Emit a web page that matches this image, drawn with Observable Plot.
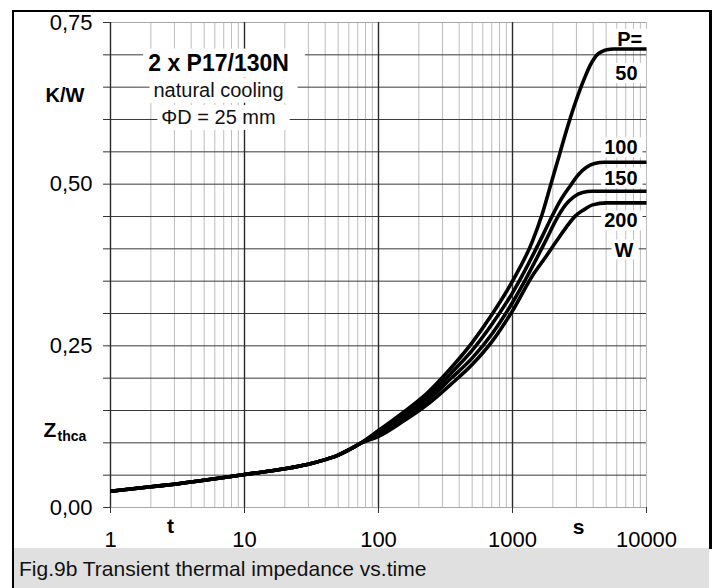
<!DOCTYPE html>
<html>
<head>
<meta charset="utf-8">
<script src="https://cdn.jsdelivr.net/npm/d3@7"></script>
<script src="https://cdn.jsdelivr.net/npm/@observablehq/plot@0.6"></script>
<style>
  body { margin: 0; background: #fff; font-family: "Liberation Sans", Arial, sans-serif; }
  #wrap { position: relative; width: 719px; height: 588px; overflow: hidden; background: #fff; }
  #chart { position: absolute; left: 0; top: 0; }
  #frameL { position: absolute; left: 11.5px; top: 9.5px; width: 2.6px; height: 580px; background: #000; }
  #frameT { position: absolute; left: 11.5px; top: 9.5px; width: 700px; height: 2.6px; background: #000; }
  #frameR { position: absolute; left: 708.8px; top: 9.5px; width: 2.8px; height: 539px; background: #000; }
  #cap { position: absolute; left: 14px; top: 548px; width: 695px; height: 40px; background: #e0e0e0;
         font-size: 21px; line-height: 41px; padding-left: 5px; box-sizing: border-box; color: #111; white-space: nowrap; }
</style>
</head>
<body>
<div id="wrap">
  <div id="chart"></div>
  <div id="frameL"></div>
  <div id="frameT"></div>
  <div id="frameR"></div>
  <div id="cap">Fig.9b Transient thermal impedance vs.time</div>
</div>
<script>
// ---- axes / grid ----
const decadeTicks = [1, 10, 100, 1000, 10000];
const decadeLines = [1, 10, 100, 1000];
const minorTicks = [2, 3, 4, 5, 6, 7, 8, 9,
  20, 30, 40, 50, 60, 70, 80, 90,
  200, 300, 400, 500, 600, 700, 800, 900,
  2000, 3000, 4000, 5000, 6000, 7000, 8000, 9000, 10000];
const yTicks = [0, 0.05, 0.10, 0.15, 0.20, 0.25, 0.30, 0.35, 0.40, 0.45, 0.50, 0.55, 0.60, 0.65, 0.70, 0.75];
const yInnerGrid = [0.05, 0.10, 0.15, 0.20, 0.25, 0.30, 0.35, 0.40, 0.45, 0.50, 0.55, 0.60, 0.65, 0.70];
const yEdgeGrid = [0, 0.75];
const yLabelled = [0, 0.25, 0.50, 0.75];

// ---- curves (time in s, Zthca in K/W) ----
const commonT = [1, 2, 3, 5, 10, 20, 30, 40, 50, 60, 73];
const commonZ = [0.025, 0.032, 0.036, 0.042, 0.051, 0.060, 0.067, 0.074, 0.081, 0.089, 0.099];

const t50 = [100, 146, 231, 345, 500, 700, 1000, 1410, 1655, 1922, 2244, 2570, 2900, 3200, 3530, 3780, 4060, 4330, 4640, 5050, 5700, 10000];
const z50 = [0.119, 0.144, 0.177, 0.215, 0.255, 0.298, 0.350, 0.412, 0.452, 0.498, 0.546, 0.588, 0.622, 0.647, 0.669, 0.683, 0.694, 0.701, 0.705, 0.708, 0.709, 0.709];

const t100 = [100, 146, 231, 345, 500, 700, 1000, 1675, 1989, 2281, 2710, 3110, 3566, 4093, 4862, 10000];
const z100 = [0.116, 0.1395, 0.171, 0.207, 0.243, 0.283, 0.332, 0.420, 0.452, 0.475, 0.498, 0.515, 0.526, 0.532, 0.534, 0.534];

const t150 = [100, 146, 231, 345, 500, 700, 1000, 1794, 2130, 2488, 2852, 3329, 3955, 10000];
const z150 = [0.113, 0.135, 0.165, 0.199, 0.231, 0.268, 0.317, 0.415, 0.446, 0.468, 0.480, 0.487, 0.489, 0.489];

const t200 = [100, 146, 231, 345, 500, 700, 1000, 1435, 1763, 2130, 2529, 2953, 3445, 3955, 5028, 10000];
const z200 = [0.110, 0.1305, 0.159, 0.190, 0.221, 0.256, 0.304, 0.361, 0.387, 0.412, 0.434, 0.451, 0.461, 0.468, 0.471, 0.471];

const powers = ["50", "100", "150", "200"];
const seriesT = [t50, t100, t150, t200];
const seriesZ = [z50, z100, z150, z200];

// ---- annotations ----
const titleText = ["2 x P17/130N"];
const titleT = [6.4];
const titleZ = [0.687];
const noteText = ["natural cooling", "\u03A6D = 25 mm"];
const noteT = [6.4, 6.4];
const noteZ = [0.645, 0.603];

const curveLabelText = ["P=", "50", "100", "150", "200", "W"];
const curveLabelT = [9300, 8570, 8570, 8570, 8570, 8000];
const curveLabelZ = [0.724, 0.671, 0.556, 0.509, 0.443, 0.398];

const unitText = ["K/W"];
const unitZ = [0.637];
const axisLetterText = ["t", "s"];
const axisLetterT = [2.8, 3110];
const axisLetterZ = [-0.029, -0.030];
const zSymbolZ = [0.119];
const zSubZ = [0.110];

// ---- build tables ----
const rows = [];
powers.forEach((p, i) => {
  commonT.forEach((t, j) => rows.push({p, t, z: commonZ[j]}));
  seriesT[i].forEach((t, j) => rows.push({p, t, z: seriesZ[i][j]}));
});
const zip = (txt, xs, ys) => txt.map((s, i) => ({s, x: xs[i], y: ys[i]}));

const font = "Liberation Sans, Arial, Helvetica, sans-serif";

const chart = Plot.plot({
  width: 719,
  height: 548,
  marginLeft: 110,
  marginRight: 73,
  marginTop: 22,
  marginBottom: 41,
  style: {fontFamily: font, background: "transparent", overflow: "visible", color: "#000"},
  x: {type: "log", domain: [1, 10000]},
  y: {domain: [0, 0.75]},
  marks: [
    Plot.ruleX(minorTicks, {stroke: "#bdbdbd", strokeWidth: 1}),
    Plot.ruleY(yEdgeGrid, {stroke: "#a8a8a8", strokeWidth: 1}),
    Plot.ruleY(yInnerGrid, {stroke: "#3a3a3a", strokeWidth: 1}),
    Plot.ruleX(decadeLines, {stroke: "#2a2a2a", strokeWidth: 1.4}),
    Plot.axisY({ticks: yTicks, tickSize: 7, tickPadding: 11, label: null, fontSize: 22,
      stroke: "#333",
      tickFormat: d => yLabelled.includes(d) ? d.toFixed(2).replace(".", ",") : ""}),
    Plot.axisX({ticks: decadeTicks, tickSize: 6, tickPadding: 18, label: null, fontSize: 22,
      stroke: "#333", tickFormat: d => String(d)}),
    // annotations (white boxes added after render)
    Plot.text(zip(titleText, titleT, titleZ), {x: "x", y: "y", text: "s", fontSize: 23, fontWeight: "bold",
      fill: "#000", style: "letter-spacing:0.9px"}),
    Plot.text(zip(noteText, noteT, noteZ), {x: "x", y: "y", text: "s", fontSize: 20, fill: "#111"}),
    Plot.text(zip(curveLabelText, curveLabelT, curveLabelZ), {x: "x", y: "y", text: "s", fontSize: 20,
      fontWeight: "bold", textAnchor: "end", fill: "#000"}),
    // curves
    Plot.line(rows, {x: "t", y: "z", z: "p", stroke: "#000", strokeWidth: 3.6, curve: "monotone-x",
      strokeLinejoin: "round", strokeLinecap: "butt"}),
    // outside labels
    Plot.text(unitText, {text: d => d, frameAnchor: "left", y: unitZ, dx: -65, textAnchor: "start", fontSize: 20, fontWeight: "bold", fill: "#000", style: "letter-spacing:0.5px"}),
    Plot.text(["Z"], {text: d => d, frameAnchor: "left", y: zSymbolZ, dx: -67, textAnchor: "start", fontSize: 21, fontWeight: "bold", fill: "#000"}),
    Plot.text(["thca"], {text: d => d, frameAnchor: "left", y: zSubZ, dx: -53, textAnchor: "start", fontSize: 14, fontWeight: "bold", fill: "#000"}),
    Plot.text(zip(axisLetterText, axisLetterT, axisLetterZ), {x: "x", y: "y", text: "s", fontSize: 21, fontWeight: "bold", fill: "#000"})
  ]
});
document.getElementById("chart").appendChild(chart);

// white boxes behind annotation texts (hide the grid, not the curves)
function boxify(strings, padL, padR, padT, padB) {
  chart.querySelectorAll("text").forEach(t => {
    if (!strings.includes(t.textContent)) return;
    const b = t.getBBox();
    const r = document.createElementNS("http://www.w3.org/2000/svg", "rect");
    r.setAttribute("x", b.x - padL);
    r.setAttribute("y", b.y - padT);
    r.setAttribute("width", b.width + padL + padR);
    r.setAttribute("height", b.height + padT + padB);
    r.setAttribute("fill", "#fff");
    r.setAttribute("stroke", "none");
    const tr = t.getAttribute("transform");
    if (tr) r.setAttribute("transform", tr);
    t.parentNode.insertBefore(r, t);
  });
}
boxify(titleText, 5, 16, 1, 2);
boxify(noteText, 4, 14, 1, 2);
boxify(curveLabelText, 3, 5, -1, -1);
</script>
</body>
</html>
